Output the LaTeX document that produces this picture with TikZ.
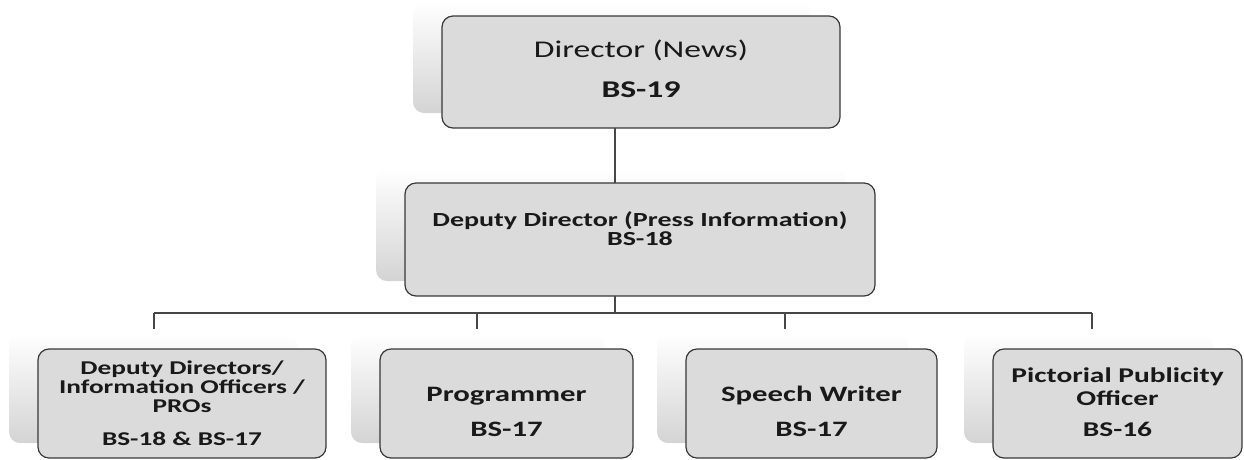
\documentclass[tikz,border=0pt]{standalone}
\usepackage{fontspec}
\setmainfont{Carlito}[FakeStretch=1.4]
\usetikzlibrary{backgrounds}
\begin{document}
\begin{tikzpicture}[x=1pt,y={(0pt,-1pt)},
  box/.style={draw=black!78, line width=1.2pt, fill=black!14, rounded corners=11pt, inner sep=0pt, outer sep=0pt},
  shadowbox/.style={rounded corners=11pt, top color=white, bottom color=black!17},
  conn/.style={draw=black!72, line width=1.5pt},
  lbl/.style={align=center, text=black!90, inner sep=0pt}]
\useasboundingbox (0,0) rectangle (1244,459);
% boxes
\node[box, minimum width=398pt, minimum height=112pt] (top) at (641,72) {};
\node[box, minimum width=470pt, minimum height=113pt] (mid) at (640,239.5) {};
\node[box, minimum width=288pt, minimum height=109pt] (b1) at (182,403.5) {};
\node[box, minimum width=253pt, minimum height=109pt] (b2) at (506.5,403.5) {};
\node[box, minimum width=251pt, minimum height=109pt] (b3) at (811.5,403.5) {};
\node[box, minimum width=249pt, minimum height=109pt] (b4) at (1117.5,403.5) {};
% shadows
\begin{scope}[on background layer]
\foreach \n in {top,mid,b1,b2,b3,b4}
  \shade[shadowbox] ([shift={(-29pt,15pt)}]\n.south west) rectangle ([shift={(-29pt,15pt)}]\n.north east);
\end{scope}
% connectors
\coordinate (j0) at (615,313);
\coordinate (h1) at (154,313); \coordinate (e1) at (154,329);
\coordinate (h2) at (477,313); \coordinate (e2) at (477,329);
\coordinate (h3) at (785,313); \coordinate (e3) at (785,329);
\coordinate (h4) at (1092,313); \coordinate (e4) at (1092,329);
\draw[conn] (top.south -| j0) -- (mid.north -| j0);
\draw[conn] (mid.south -| j0) -- (j0);
\draw[conn] (h1) -- (h4);
\foreach \i in {1,2,3,4} \draw[conn] (h\i) -- (e\i);
% labels
\node[lbl, font=\bfseries\fontsize{24}{40}\selectfont] (topt) at ([yshift=3pt]top.center) {{\mdseries Director (News)}\\BS-19};
\node[lbl, font=\bfseries\fontsize{20}{19}\selectfont] (midt) at ([yshift=11pt]mid.center) {Deputy Director (Press Information)\\BS-18};
\node[lbl, font=\bfseries\fontsize{19.5}{19}\selectfont] (b1t) at (b1.center) {Deputy Directors/\\Information Officers /\\PROs\\[14pt]BS-18 \& BS-17};
\node[lbl, font=\bfseries\fontsize{22}{35}\selectfont] (b2t) at ([yshift=-8pt]b2.center) {Programmer\\BS-17};
\node[lbl, font=\bfseries\fontsize{22}{35}\selectfont] (b3t) at ([yshift=-8pt]b3.center) {Speech Writer\\BS-17};
\node[lbl, font=\bfseries\fontsize{21}{23}\selectfont] (b4t) at ([yshift=1pt]b4.center) {Pictorial Publicity\\Officer\\[8pt]BS-16};
\end{tikzpicture}
\end{document}
